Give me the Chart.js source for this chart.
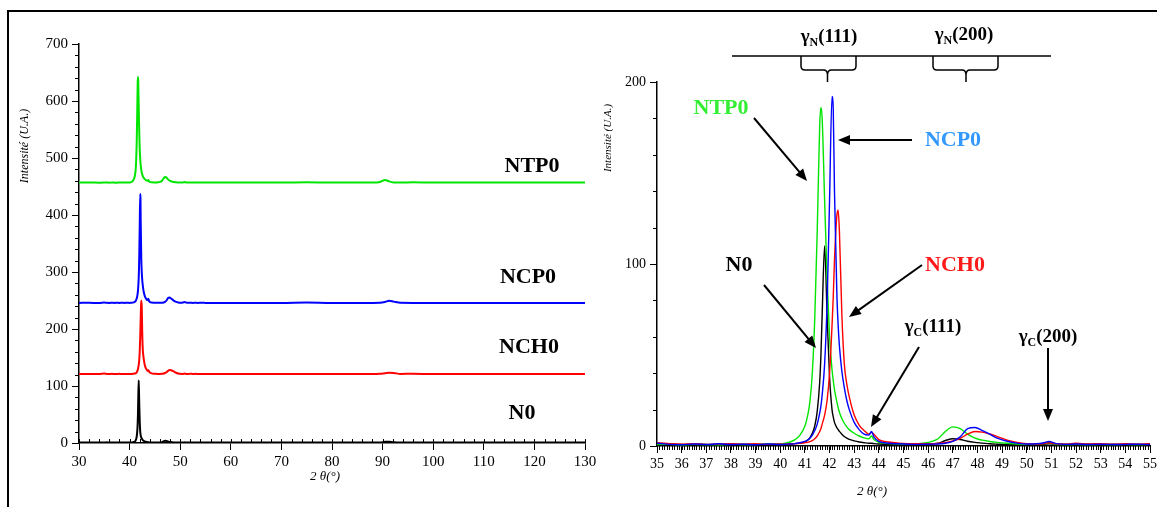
<!DOCTYPE html>
<html>
<head>
<meta charset="utf-8">
<script src="https://cdn.jsdelivr.net/npm/chart.js"></script>
<style>
  body { margin: 0; background: #fff; overflow: hidden; }
  canvas { position: absolute; top: 0; }
  #frame { position: absolute; left: 7px; top: 10px; width: 1150px; height: 500px;
           border-top: 2px solid #000; border-left: 2px solid #000; }
</style>
</head>
<body>
<canvas id="gauche" width="600" height="507" style="left:0"></canvas>
<canvas id="droite" width="560" height="507" style="left:600px"></canvas>
<div id="frame"></div>
<script>
// 2 theta (deg)
var twoTheta = [
  30, 32, 34, 35, 35.5, 36, 36.5, 37, 37.5, 38,
  38.5, 39, 39.5, 40, 40.2, 40.4, 40.6, 40.8, 41, 41.1,
  41.2, 41.3, 41.4, 41.5, 41.6, 41.65, 41.7, 41.8, 41.9, 42,
  42.1, 42.15, 42.2, 42.3, 42.35, 42.4, 42.5, 42.6, 42.7, 42.8,
  43, 43.2, 43.4, 43.6, 43.7, 43.8, 44, 44.4, 44.8, 45.2,
  45.6, 46, 46.4, 46.7, 47, 47.3, 47.6, 47.9, 48.2, 48.5,
  48.8, 49.2, 49.6, 50, 50.4, 50.7, 50.9, 51.2, 51.6, 52,
  52.5, 53, 53.5, 54, 54.5, 55, 57, 60, 65, 70,
  75, 80, 85, 88, 89.5, 90.5, 91.3, 92.2, 93.5, 96,
  100, 105, 110, 115, 120, 125, 130
];

// intensites (U.A.)
var n0 = [
  0.8, 1.0, 0.7, 0.9, 1.1, 0.8, 1.0, 0.7, 1.0, 0.8,
  0.9, 0.7, 1.0, 0.9, 1.0, 1.1, 1.3, 1.6, 2.2, 3,
  4.5, 7, 11, 19, 35, 50, 72, 110, 72, 38,
  20, 16, 13, 10, 9, 8, 6.5, 5.2, 4.3, 3.6,
  2.8, 2.2, 1.8, 1.5, 1.5, 1.3, 1.1, 0.9, 0.8, 0.8,
  0.9, 1.0, 1.5, 3, 4, 3.6, 2.6, 2.0, 1.6, 1.2,
  1.0, 0.8, 0.8, 0.7, 0.8, 1.0, 1.2, 0.9, 0.8, 0.7,
  0.8, 0.7, 0.8, 0.7, 0.8, 0.7, 0.8, 0.7, 0.8, 0.7,
  0.8, 0.7, 0.8, 0.8, 1.0, 2.0, 2.2, 1.2, 0.8, 0.8,
  0.7, 0.8, 0.7, 0.8, 0.7, 0.8, 0.8
];
var nch0 = [
  1.0, 1.2, 0.9, 1.8, 1.2, 1.0, 1.3, 0.9, 1.1, 1.3,
  1.0, 1.2, 0.9, 1.1, 1.0, 1.2, 1.3, 1.5, 1.8, 2,
  2.4, 3, 4, 5.5, 8, 9.5, 12, 17, 25, 40,
  66, 82, 102, 127, 129.5, 118, 72, 45, 34, 27,
  17, 11.5, 8.5, 6.5, 7.5, 6.5, 3.5, 2.2, 1.6, 1.3,
  1.2, 1.2, 1.4, 1.8, 2.8, 4.2, 6.5, 8, 7.6, 6.6,
  5.2, 3.2, 2.0, 1.3, 1.1, 1.4, 1.8, 1.2, 1.0, 1.5,
  1.1, 1.3, 1.0, 1.2, 1.0, 1.2, 1.0, 1.0, 1.0, 1.0,
  1.0, 1.0, 1.0, 1.0, 1.5, 2.5, 3.2, 3, 1.2, 1.5,
  1.0, 1.0, 1.0, 1.0, 1.0, 1.0, 1.0
];
var ncp0 = [
  0.8, 0.9, 0.7, 1.5, 0.9, 0.7, 1.1, 0.8, 1.2, 0.8,
  1.0, 0.7, 1.1, 0.8, 1.0, 1.1, 1.3, 1.8, 2.5, 3.2,
  4.3, 6, 8.5, 12, 18, 22, 28, 45, 78, 135,
  192, 185, 140, 82, 66, 55, 41, 32, 25, 20,
  13, 9, 6.5, 6, 8, 5, 2.5, 1.5, 1.2, 1.0,
  0.9, 1.0, 1.1, 1.5, 2.6, 5, 9.5, 10.2, 8.5, 6.5,
  4.3, 2.6, 1.6, 1.1, 1.2, 1.8, 2.5, 1.3, 0.9, 1.1,
  0.8, 1.0, 0.8, 0.9, 1.0, 0.8, 0.8, 0.8, 0.8, 0.8,
  1.5, 0.8, 0.8, 0.8, 1.0, 2.5, 4.5, 3.0, 1.0, 0.8,
  0.8, 0.8, 0.8, 0.8, 0.8, 0.8, 0.8
];
var ntp0 = [
  0.8, 0.9, 0.7, 0.8, 1.0, 0.7, 0.9, 0.8, 0.7, 1.0,
  0.8, 0.9, 1.0, 1.1, 1.5, 2.2, 3.5, 6, 11, 16,
  24, 40, 70, 118, 176, 186, 180, 135, 92, 60,
  42, 36, 31, 24, 21, 18.5, 15, 12.5, 10.5, 9,
  7, 5.5, 4.5, 4, 5.5, 3.5, 2, 1.4, 1.1, 1.0,
  1.3, 2.0, 4, 8, 10.5, 9.5, 6.5, 4.3, 3.2, 2.5,
  2.0, 1.5, 1.1, 0.9, 1.0, 1.3, 1.8, 1.0, 0.8, 0.9,
  0.8, 0.9, 0.8, 0.9, 0.8, 0.9, 0.8, 0.8, 0.8, 0.8,
  1.3, 0.8, 1.2, 1.0, 2.0, 5.5, 3.0, 1.2, 0.8, 1.5,
  0.8, 0.8, 0.8, 0.8, 0.8, 0.8, 0.8
];

var nomsSeries = ["N0", "NCH0", "NCP0", "NTP0"];
var valeursSeries = [n0, nch0, ncp0, ntp0];
var couleursSeries = ["#000000", "#ff0000", "#0000ff", "#00e600"];
var decalages = [0, 120, 245, 456];   // decalage vertical des diagrammes (graphe de gauche)

var serif = "'Liberation Serif', 'Times New Roman', serif";

function points(vals, dec) {
  return twoTheta.map(function (t, i) { return { x: t, y: vals[i] + dec }; });
}

function datasets(avecDecalage, epaisseur) {
  var ordre = [3, 1, 0, 2];
  return valeursSeries.map(function (v, i) {
    return {
      label: nomsSeries[i],
      data: points(v, avecDecalage ? decalages[i] : 0),
      borderColor: couleursSeries[i],
      borderWidth: epaisseur,
      pointRadius: 0,
      cubicInterpolationMode: "monotone",
      order: ordre[i]
    };
  });
}

// petites graduations
var tickMarks = {
  id: "tickMarks",
  afterDatasetsDraw: function (chart, args, o) {
    var ctx = chart.ctx, xs = chart.scales.x, ys = chart.scales.y;
    ctx.save();
    ctx.strokeStyle = "#000";
    ctx.lineWidth = 1;
    ctx.beginPath();
    for (var i = 0; xs.min + i * o.xStep <= xs.max + 1e-6; i++) {
      var px = Math.round(xs.getPixelForValue(xs.min + i * o.xStep)) + 0.5;
      ctx.moveTo(px, ys.bottom);
      ctx.lineTo(px, ys.bottom + o.xLen);
    }
    for (var j = 0; ys.min + j * o.yStep <= ys.max + 1e-6; j++) {
      var py = Math.round(ys.getPixelForValue(ys.min + j * o.yStep)) + 0.5;
      ctx.moveTo(xs.left, py);
      ctx.lineTo(xs.left - o.yLen, py);
    }
    ctx.stroke();
    ctx.restore();
  }
};

function fleche(ctx, x1, y1, x2, y2) {
  var a = Math.atan2(y2 - y1, x2 - x1), L = 12, W = 5;
  ctx.lineWidth = 2;
  ctx.beginPath();
  ctx.moveTo(x1, y1);
  ctx.lineTo(x2 - L * 0.8 * Math.cos(a), y2 - L * 0.8 * Math.sin(a));
  ctx.stroke();
  ctx.beginPath();
  ctx.moveTo(x2, y2);
  ctx.lineTo(x2 - L * Math.cos(a) + W * Math.sin(a), y2 - L * Math.sin(a) - W * Math.cos(a));
  ctx.lineTo(x2 - L * Math.cos(a) - W * Math.sin(a), y2 - L * Math.sin(a) + W * Math.cos(a));
  ctx.closePath();
  ctx.fill();
}

function texte(ctx, t, x, y, couleur, police) {
  ctx.font = police;
  ctx.fillStyle = couleur;
  ctx.textAlign = "center";
  ctx.textBaseline = "middle";
  ctx.fillText(t, x, y);
}

function gamma(ctx, cx, cy, sub, reste, taille) {
  var grand = "bold " + taille + "px " + serif;
  var petit = "bold " + Math.round(taille * 0.65) + "px " + serif;
  ctx.fillStyle = "#000";
  ctx.textAlign = "left";
  ctx.textBaseline = "middle";
  ctx.font = grand;
  var w1 = ctx.measureText("\u03b3").width, w3 = ctx.measureText(reste).width;
  ctx.font = petit;
  var w2 = ctx.measureText(sub).width;
  var x = cx - (w1 + w2 + w3) / 2;
  ctx.font = grand; ctx.fillText("\u03b3", x, cy); x += w1;
  ctx.font = petit; ctx.fillText(sub, x, cy + taille * 0.3); x += w2;
  ctx.font = grand; ctx.fillText(reste, x, cy);
}

function accolade(ctx, x1, x2, cx, yh, ym, yb) {
  ctx.beginPath();
  ctx.moveTo(x1, yh);
  ctx.lineTo(x1, ym - 4);
  ctx.quadraticCurveTo(x1, ym, x1 + 4, ym);
  ctx.lineTo(cx - 4, ym);
  ctx.quadraticCurveTo(cx, ym, cx, ym + 5);
  ctx.lineTo(cx, yb);
  ctx.moveTo(cx, ym + 5);
  ctx.quadraticCurveTo(cx, ym, cx + 4, ym);
  ctx.lineTo(x2 - 4, ym);
  ctx.quadraticCurveTo(x2, ym, x2, ym - 4);
  ctx.lineTo(x2, yh);
  ctx.stroke();
}

function axeY(min, max, pas, largeur, taille) {
  return {
    type: "linear", min: min, max: max,
    ticks: { stepSize: pas, color: "#000", padding: 4, font: { family: serif, size: taille } },
    grid: { drawOnChartArea: false, drawTicks: true, tickLength: 7, color: "#000" },
    border: { color: "#000", width: 1.5 },
    afterFit: function (s) { s.width = largeur; }
  };
}
function axeX(min, max, pas, hauteur, taille) {
  return {
    type: "linear", min: min, max: max,
    ticks: { stepSize: pas, color: "#000", padding: 3, maxRotation: 0, font: { family: serif, size: taille } },
    grid: { drawOnChartArea: false, drawTicks: true, tickLength: 7, color: "#000" },
    border: { color: "#000", width: 1.5 },
    afterFit: function (s) { s.height = hauteur; }
  };
}

Chart.defaults.font.family = serif;

new Chart("gauche", {
  type: "line",
  data: { datasets: datasets(true, 2) },
  options: {
    responsive: false, animation: false, devicePixelRatio: 1,
    layout: { padding: { top: 44, right: 15, left: 0, bottom: 0 } },
    plugins: {
      legend: { display: false }, tooltip: { enabled: false },
      tickMarks: { xStep: 2, xLen: -4, yStep: 20, yLen: 4 }
    },
    scales: { x: axeX(30, 130, 10, 64, 15), y: axeY(0, 700, 100, 79, 15) }
  },
  plugins: [tickMarks, {
    id: "notesGauche",
    afterDraw: function (chart) {
      var ctx = chart.ctx;
      ctx.save();
      var gras = "bold 22px " + serif;
      texte(ctx, "NTP0", 532, 166, "#000", gras);
      texte(ctx, "NCP0", 528, 277, "#000", gras);
      texte(ctx, "NCH0", 529, 347, "#000", gras);
      texte(ctx, "N0", 522, 413, "#000", gras);
      texte(ctx, "2 \u03b8(\u00b0)", 325, 477, "#000", "italic 13px " + serif);
      ctx.translate(25, 146);
      ctx.rotate(-Math.PI / 2);
      texte(ctx, "Intensit\u00e9 (U.A.)", 0, 0, "#000", "italic 12px " + serif);
      ctx.restore();
    }
  }]
});

new Chart("droite", {
  type: "line",
  data: { datasets: datasets(false, 1.4) },
  options: {
    responsive: false, animation: false, devicePixelRatio: 1,
    layout: { padding: { top: 82, right: 9, left: 0, bottom: 0 } },
    plugins: {
      legend: { display: false }, tooltip: { enabled: false },
      tickMarks: { xStep: 0.1, xLen: 4, yStep: 20, yLen: 4 }
    },
    scales: { x: axeX(35, 55, 1, 61, 14), y: axeY(0, 200, 100, 57, 14) }
  },
  plugins: [tickMarks, {
    id: "notesDroite",
    afterDraw: function (chart) {
      var ctx = chart.ctx;
      ctx.save();
      ctx.strokeStyle = "#000";
      ctx.fillStyle = "#000";
      // barre du haut et accolades
      ctx.lineWidth = 1.5;
      ctx.beginPath();
      ctx.moveTo(132, 56); ctx.lineTo(451, 56);
      ctx.stroke();
      accolade(ctx, 201, 256, 227.5, 56, 70, 82);
      accolade(ctx, 333, 398, 366, 56, 70, 82);
      gamma(ctx, 229, 37, "N", "(111)", 19);
      gamma(ctx, 364, 35, "N", "(200)", 19);
      gamma(ctx, 333, 327, "C", "(111)", 19);
      gamma(ctx, 448, 337, "C", "(200)", 19);

      var gras = "bold 22px " + serif;
      texte(ctx, "NTP0", 121, 108, "#33ee33", gras);
      texte(ctx, "NCP0", 353, 140, "#3399ff", gras);
      texte(ctx, "N0", 139, 265, "#000", gras);
      texte(ctx, "NCH0", 355, 265, "#ff1a1a", gras);

      ctx.strokeStyle = "#000";
      ctx.fillStyle = "#000";
      fleche(ctx, 154, 118, 207, 181);
      fleche(ctx, 312, 140, 238, 140);
      fleche(ctx, 164, 285, 216, 348);
      fleche(ctx, 322, 265, 249, 317);
      fleche(ctx, 319, 347, 271, 427);
      fleche(ctx, 448, 348, 448, 421);

      texte(ctx, "2 \u03b8(\u00b0)", 272, 492, "#000", "italic 13px " + serif);
      ctx.translate(8, 138);
      ctx.rotate(-Math.PI / 2);
      texte(ctx, "Intensit\u00e9 (U.A.)", 0, 0, "#000", "italic 11px " + serif);
      ctx.restore();
    }
  }]
});
</script>
</body>
</html>
